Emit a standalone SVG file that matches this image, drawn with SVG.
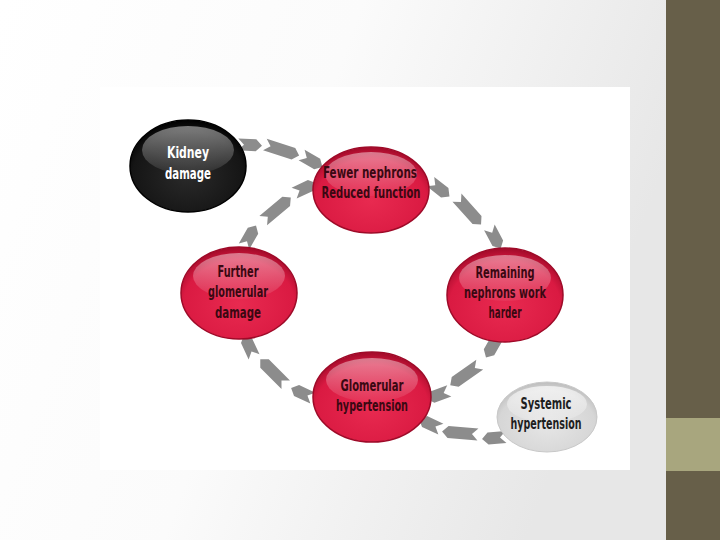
<svg xmlns="http://www.w3.org/2000/svg" width="720" height="540" viewBox="0 0 720 540">
<defs>
<linearGradient id="bg" x1="0" y1="0" x2="1" y2="0.3">
<stop offset="0" stop-color="#ffffff"/><stop offset="0.5" stop-color="#fbfbfb"/><stop offset="1" stop-color="#e7e7e7"/>
</linearGradient>
<radialGradient id="red" cx="0.5" cy="0.62" r="0.6">
<stop offset="0" stop-color="#e82a50"/><stop offset="0.8" stop-color="#da1a42"/><stop offset="1" stop-color="#a80c2c"/>
</radialGradient>
<radialGradient id="blk" cx="0.5" cy="0.6" r="0.6">
<stop offset="0" stop-color="#2a2a2a"/><stop offset="0.8" stop-color="#151515"/><stop offset="1" stop-color="#000000"/>
</radialGradient>
<radialGradient id="gry" cx="0.5" cy="0.6" r="0.6">
<stop offset="0" stop-color="#e6e6e6"/><stop offset="0.8" stop-color="#d6d6d6"/><stop offset="1" stop-color="#bdbdbd"/>
</radialGradient>
<linearGradient id="hiR" x1="0" y1="0" x2="0" y2="1">
<stop offset="0" stop-color="#ffffff" stop-opacity="0.8"/><stop offset="1" stop-color="#ffffff" stop-opacity="0.1"/>
</linearGradient>
<linearGradient id="hiK" x1="0" y1="0" x2="0" y2="1">
<stop offset="0" stop-color="#ffffff" stop-opacity="0.75"/><stop offset="1" stop-color="#ffffff" stop-opacity="0.1"/>
</linearGradient>
<linearGradient id="hiG" x1="0" y1="0" x2="0" y2="1">
<stop offset="0" stop-color="#ffffff" stop-opacity="0.95"/><stop offset="1" stop-color="#ffffff" stop-opacity="0.2"/>
</linearGradient>
<polygon id="chevL" points="-18,-6 12,-6 18,0 12,6 -18,6 -12,0"/>
<polygon id="chevS" points="-12,-6 6,-6 12,0 6,6 -12,6 -6,0"/>
</defs>
<style>
.lbl{font-family:'DejaVu Sans Condensed','DejaVu Sans',sans-serif;font-size:15px;font-weight:bold;text-anchor:middle}
.rt{fill:#3a0812}
.wt{fill:#ffffff}
.gt{fill:#1e1e1e}
.rim-r{stroke:#9e0a28;stroke-width:1.5}
.rim-k{stroke:#000;stroke-width:1.5}
.rim-g{stroke:#c8c8c8;stroke-width:1}
#connectors use{fill:#8c8c8c}
</style>
<rect x="0" y="0" width="666" height="540" fill="url(#bg)"/>
<rect x="100" y="87" width="530" height="383" fill="#ffffff"/>
<rect x="666" y="0" width="54" height="540" fill="#675f49"/>
<rect x="666" y="418" width="54" height="53" fill="#a8a67e"/>

<g id="connectors">
<use href="#chevS" transform="translate(250,145) rotate(3)"/>
<use href="#chevL" transform="translate(282,150) rotate(18)"/>
<use href="#chevS" transform="translate(312,161) rotate(30)"/>
<use href="#chevS" transform="translate(440,189) rotate(38)"/>
<use href="#chevL" transform="translate(469,211) rotate(48)"/>
<use href="#chevS" transform="translate(495,238) rotate(62)"/>
<use href="#chevS" transform="translate(492,347) rotate(120)"/>
<use href="#chevL" transform="translate(465,375) rotate(145)"/>
<use href="#chevS" transform="translate(438,395) rotate(160)"/>
<use href="#chevS" transform="translate(302,393) rotate(205)"/>
<use href="#chevL" transform="translate(273,372) rotate(225)"/>
<use href="#chevS" transform="translate(249,346) rotate(245)"/>
<use href="#chevS" transform="translate(250,236) rotate(-60)"/>
<use href="#chevL" transform="translate(277,209) rotate(-40)"/>
<use href="#chevS" transform="translate(305,188) rotate(-25)"/>
<use href="#chevS" transform="translate(494,438) rotate(175)"/>
<use href="#chevL" transform="translate(460,433) rotate(185)"/>
<use href="#chevS" transform="translate(430,424) rotate(205)"/>
</g>

<g id="kidney">
<ellipse cx="188" cy="166" rx="58" ry="46" fill="url(#blk)" class="rim-k"/>
<ellipse cx="188" cy="150" rx="46" ry="24" fill="url(#hiK)" opacity="0.6"/>
<text class="lbl wt" x="188" y="158" textLength="42" lengthAdjust="spacingAndGlyphs">Kidney</text>
<text class="lbl wt" x="188" y="179" textLength="46" lengthAdjust="spacingAndGlyphs">damage</text>
</g>
<g id="fewer">
<ellipse cx="371" cy="190" rx="58" ry="43" fill="url(#red)" class="rim-r"/>
<ellipse cx="371" cy="174" rx="46" ry="22" fill="url(#hiR)" opacity="0.55"/>
<text class="lbl rt" x="370" y="178" textLength="94" lengthAdjust="spacingAndGlyphs">Fewer nephrons</text>
<text class="lbl rt" x="371" y="198" textLength="99" lengthAdjust="spacingAndGlyphs">Reduced function</text>
</g>
<g id="remaining">
<ellipse cx="505" cy="295" rx="58" ry="47" fill="url(#red)" class="rim-r"/>
<ellipse cx="505" cy="278" rx="46" ry="23" fill="url(#hiR)" opacity="0.55"/>
<text class="lbl rt" x="505" y="278" textLength="59" lengthAdjust="spacingAndGlyphs">Remaining</text>
<text class="lbl rt" x="505" y="298" textLength="82" lengthAdjust="spacingAndGlyphs">nephrons work</text>
<text class="lbl rt" x="505" y="318" textLength="33" lengthAdjust="spacingAndGlyphs">harder</text>
</g>
<g id="further">
<ellipse cx="239" cy="293" rx="58" ry="46" fill="url(#red)" class="rim-r"/>
<ellipse cx="239" cy="276" rx="46" ry="23" fill="url(#hiR)" opacity="0.55"/>
<text class="lbl rt" x="238" y="277" textLength="41" lengthAdjust="spacingAndGlyphs">Further</text>
<text class="lbl rt" x="238" y="297" textLength="60" lengthAdjust="spacingAndGlyphs">glomerular</text>
<text class="lbl rt" x="238" y="318" textLength="46" lengthAdjust="spacingAndGlyphs">damage</text>
</g>
<g id="glomerular">
<ellipse cx="372" cy="397" rx="59" ry="45" fill="url(#red)" class="rim-r"/>
<ellipse cx="372" cy="380" rx="46" ry="22" fill="url(#hiR)" opacity="0.55"/>
<text class="lbl rt" x="372" y="391" textLength="63" lengthAdjust="spacingAndGlyphs">Glomerular</text>
<text class="lbl rt" x="372" y="411" textLength="72" lengthAdjust="spacingAndGlyphs">hypertension</text>
</g>
<g id="systemic">
<ellipse cx="547" cy="417" rx="50" ry="35" fill="url(#gry)" class="rim-g"/>
<ellipse cx="547" cy="404" rx="40" ry="18" fill="url(#hiG)" opacity="0.7"/>
<text class="lbl gt" x="546" y="409" textLength="51" lengthAdjust="spacingAndGlyphs">Systemic</text>
<text class="lbl gt" x="546" y="429" textLength="71" lengthAdjust="spacingAndGlyphs">hypertension</text>
</g>
</svg>
